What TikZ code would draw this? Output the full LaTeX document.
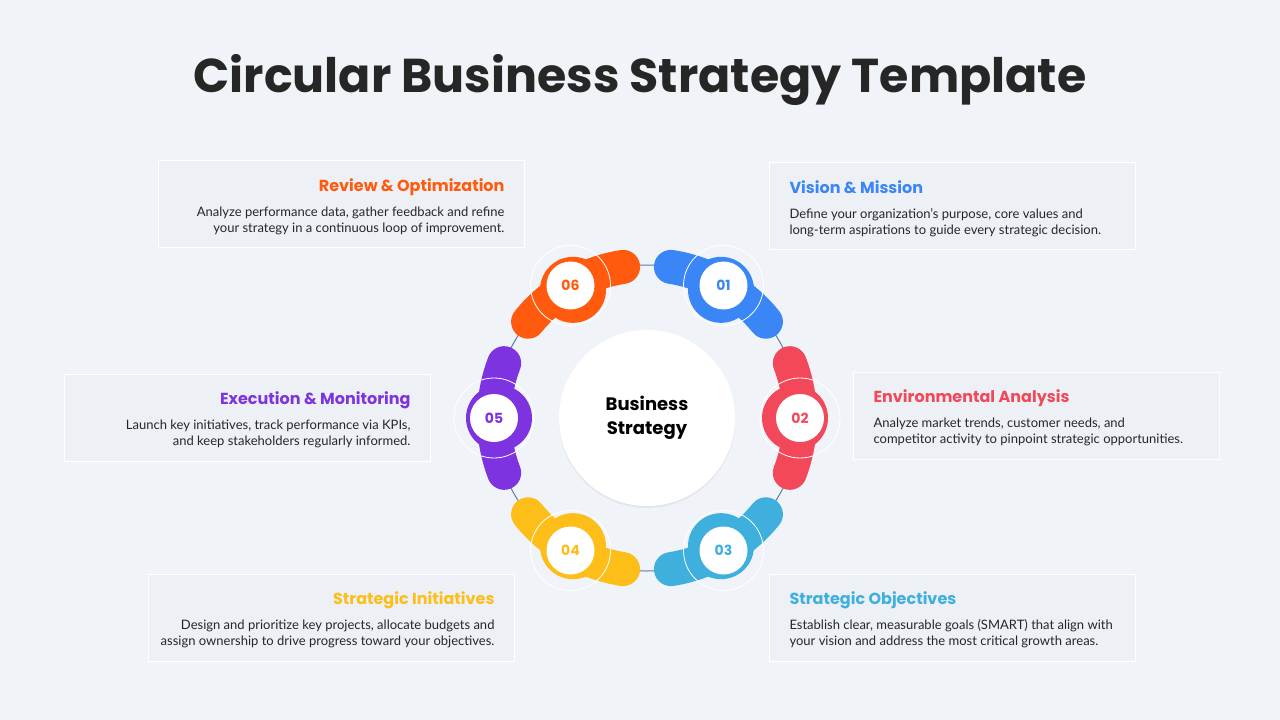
\documentclass[tikz,border=0pt]{standalone}
\usepackage{fontspec}
\setmainfont{Lato}
\newfontfamily\popfont{Poppins}
\usetikzlibrary{shadows}
\definecolor{bgcol}{HTML}{F0F4F8}
\definecolor{boxcol}{HTML}{EDF1F6}
\definecolor{ringcol}{HTML}{5B7FA6}
\definecolor{cblue}{HTML}{3B86F7}
\definecolor{cred}{HTML}{F2485A}
\definecolor{ccyan}{HTML}{3FB0DE}
\definecolor{cyellow}{HTML}{FDBE1A}
\definecolor{cpurple}{HTML}{7E33E0}
\definecolor{corange}{HTML}{FF5A0E}
\definecolor{txtcol}{HTML}{262626}
\begin{document}
\begin{tikzpicture}
[x=1pt,y=1pt,
infobox/.style={draw=white,line width=1pt,fill=boxcol,minimum width=366pt,minimum height=87pt,
  text width=334pt,inner sep=0pt},
boxtitle/.style={font=\popfont\fontsize{16}{18}\selectfont\bfseries},
boxtext/.style={font=\fontsize{13}{16}\selectfont,text=txtcol},
seg/.style={line width=34pt,line cap=round},
numdot/.style={circle,fill=white,minimum size=48pt,inner sep=0pt,font=\popfont\bfseries\fontsize{14}{14}\selectfont},
]
\fill[bgcol] (0,0) rectangle (1280,-720);
\useasboundingbox (0,0) rectangle (1280,-720);
\node[font=\popfont\bfseries\fontsize{47.5}{50}\selectfont,text=txtcol] (title) at (640,-80) {Circular Business Strategy Template};
% ring
\coordinate (c) at (647,-418);
\draw[ringcol,line width=1pt] (c) circle[radius=153];
\foreach \ang/\col/\num in {60/cblue/01,0/cred/02,-60/ccyan/03,-120/cyellow/04,180/cpurple/05,120/corange/06}{
  \draw[seg,\col] ([shift={(\ang+21:153)}]c) arc[start angle=\ang+21,end angle=\ang-21,radius=153];
  \fill[\col] ([shift={(\ang:148)}]c) circle[radius=33];
  \draw[white,line width=0.8pt] ([shift={(\ang:153)}]c) circle[radius=40];
  \node[numdot,text=\col] (n\num) at ([shift={(\ang:153)}]c) {\num};
}
\node[circle,fill=white,minimum size=176pt,drop shadow={opacity=0.12,shadow xshift=0pt,shadow yshift=-2pt},
  align=center,font=\popfont\bfseries\fontsize{18}{24}\selectfont] (core) at (c) {Business\\Strategy};
% boxes
\node[infobox] (b6) at (341,-204) {};
\node[boxtitle,text=corange,anchor=north east] (t6) at (508,-175) {Review \& Optimization};
\node[boxtext,anchor=north east,align=right] (d6) at (508,-203) {Analyze performance data, gather feedback and refine\\your strategy in a continuous loop of improvement.};
\node[infobox] (b1) at (952,-206) {};
\node[boxtitle,text=cblue,anchor=north west] (t1) at (786,-177) {Vision \& Mission};
\node[boxtext,anchor=north west,align=left] (d1) at (786,-205) {Define your organization's purpose, core values and\\long-term aspirations to guide every strategic decision.};
\node[infobox] (b2) at (1036,-416) {};
\node[boxtitle,text=cred,anchor=north west] (t2) at (870,-386) {Environmental Analysis};
\node[boxtext,anchor=north west,align=left] (d2) at (870,-414) {Analyze market trends, customer needs, and\\competitor activity to pinpoint strategic opportunities.};
\node[infobox] (b5) at (247,-418) {};
\node[boxtitle,text=cpurple,anchor=north east] (t5) at (414,-388) {Execution \& Monitoring};
\node[boxtext,anchor=north east,align=right] (d5) at (414,-416) {Launch key initiatives, track performance via KPIs,\\and keep stakeholders regularly informed.};
\node[infobox] (b4) at (331,-618) {};
\node[boxtitle,text=cyellow,anchor=north east] (t4) at (498,-588) {Strategic Initiatives};
\node[boxtext,anchor=north east,align=right] (d4) at (498,-616) {Design and prioritize key projects, allocate budgets and\\assign ownership to drive progress toward your objectives.};
\node[infobox] (b3) at (952,-618) {};
\node[boxtitle,text=ccyan,anchor=north west] (t3) at (786,-588) {Strategic Objectives};
\node[boxtext,anchor=north west,align=left] (d3) at (786,-616) {Establish clear, measurable goals (SMART) that align with\\your vision and address the most critical growth areas.};
\end{tikzpicture}
\end{document}
